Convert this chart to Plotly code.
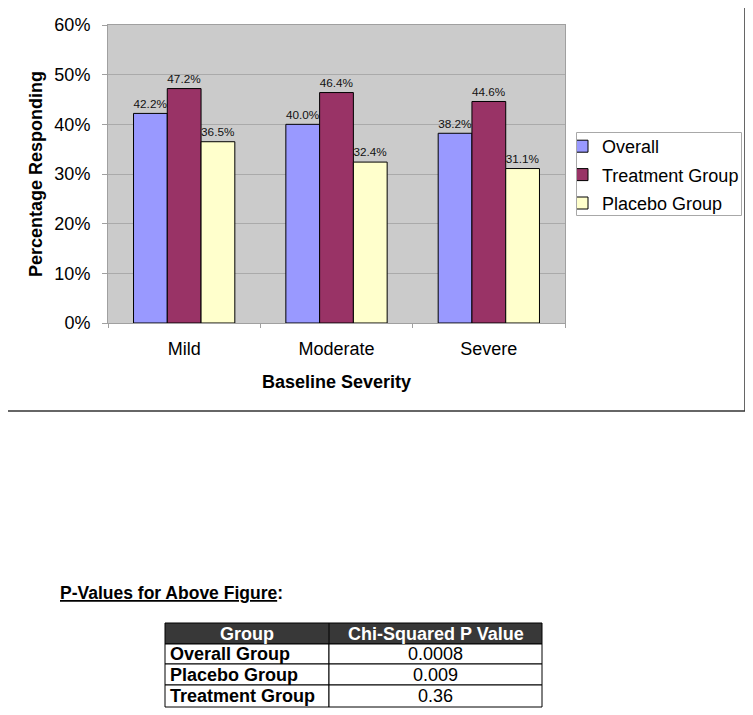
import plotly.graph_objects as go

categories = ["Mild", "Moderate", "Severe"]
overall = [0.422, 0.400, 0.382]
treatment = [0.472, 0.464, 0.446]
placebo = [0.365, 0.324, 0.311]
series_names = ["Overall", "Treatment Group", "Placebo Group"]
series_colors = ["#9999FF", "#993366", "#FFFFCC"]

table_header = ["Group", "Chi-Squared P Value"]
table_groups = ["Overall Group", "Placebo Group", "Treatment Group"]
table_pvalues = ["0.0008", "0.009", "0.36"]

# page body has an 8px margin, so the figure is drawn 8px in from the window edge
OFF = 8
W, H = 753 - OFF, 715 - OFF
L, R, T, B = 108, 565, 25, 323   # plot area in window pixels


def PX(x):
    return (x - L) / (R - L)


def PY(y):
    return (B - y) / (B - T)


fig = go.Figure()
for i, (name, vals, col) in enumerate(zip(series_names, [overall, treatment, placebo], series_colors)):
    fig.add_trace(go.Bar(
        x=categories, y=vals, name=name,
        marker=dict(color=col, line=dict(color="#000000", width=1)),
        text=[f"{v*100:.1f}%" for v in vals],
        textposition="outside",
        textfont=dict(family="Arial", size=13, color="#111111"),
        cliponaxis=False,
        legendgroup=name,
    ))

font = "Arial"
shapes = []
annotations = []

# legend frame (drawn as four lines, aligned to pixel centres)
lx0, lx1, ly0, ly1 = 576.5, 741.5, 132.5, 215.5
for (x0, y0, x1, y1) in [(lx0, ly0, lx1, ly0), (lx0, ly1, lx1, ly1), (lx0, ly0, lx0, ly1), (lx1, ly0, lx1, ly1)]:
    shapes.append(dict(type="line", xref="paper", yref="paper",
                       x0=PX(x0), y0=PY(y0), x1=PX(x1), y1=PY(y1),
                       line=dict(color="#A8A8A8", width=1)))

# border around chart area
for (x0, y0, x1, y1) in [(7, 5, 7, 411), (745, 5, 745, 411), (7, 411, 745, 411)]:
    shapes.append(dict(type="line", xref="paper", yref="paper",
                       x0=PX(x0), y0=PY(y0), x1=PX(x1), y1=PY(y1),
                       line=dict(color="#333333", width=1.5)))

# axis titles
annotations.append(dict(text="<b>Percentage Responding</b>", xref="paper", yref="paper",
                        x=PX(36), y=PY(174), textangle=-90, showarrow=False,
                        font=dict(family=font, size=18, color="#000000"),
                        xanchor="center", yanchor="middle"))
annotations.append(dict(text="<b>Baseline Severity</b>", xref="paper", yref="paper",
                        x=PX(336), y=PY(382), showarrow=False,
                        font=dict(family=font, size=18, color="#000000"),
                        xanchor="center", yanchor="middle"))

# P-values title
annotations.append(dict(text="<b><u>P-Values for Above Figure</u>:</b>", xref="paper", yref="paper",
                        x=PX(58), y=PY(593), showarrow=False,
                        font=dict(family=font, size=17.5, color="#000000"),
                        xanchor="left", yanchor="middle"))

# table
tx0, tmid, tx1 = 165, 329, 542
row_y = [623, 644, 664, 685, 707]
shapes.append(dict(type="rect", xref="paper", yref="paper",
                   x0=PX(tx0), x1=PX(tx1), y0=PY(row_y[0]), y1=PY(row_y[1]),
                   fillcolor="#383838", line=dict(color="#000000", width=1)))
for i in range(1, 4):
    for (a, b) in [(tx0, tmid), (tmid, tx1)]:
        shapes.append(dict(type="rect", xref="paper", yref="paper",
                           x0=PX(a), x1=PX(b), y0=PY(row_y[i]), y1=PY(row_y[i + 1]),
                           fillcolor="#FFFFFF", line=dict(color="#000000", width=1)))
shapes.append(dict(type="line", xref="paper", yref="paper",
                   x0=PX(tmid), x1=PX(tmid), y0=PY(row_y[0]), y1=PY(row_y[1]),
                   line=dict(color="#000000", width=1)))

annotations.append(dict(text="<b>" + table_header[0] + "</b>", xref="paper", yref="paper",
                        x=PX((tx0 + tmid) / 2), y=PY((row_y[0] + row_y[1]) / 2), showarrow=False,
                        font=dict(family=font, size=18, color="#FFFFFF"),
                        xanchor="center", yanchor="middle"))
annotations.append(dict(text="<b>" + table_header[1] + "</b>", xref="paper", yref="paper",
                        x=PX((tmid + tx1) / 2), y=PY((row_y[0] + row_y[1]) / 2), showarrow=False,
                        font=dict(family=font, size=18, color="#FFFFFF"),
                        xanchor="center", yanchor="middle"))
for i, (g, p) in enumerate(zip(table_groups, table_pvalues)):
    yc = PY((row_y[i + 1] + row_y[i + 2]) / 2)
    annotations.append(dict(text="<b>" + g + "</b>", xref="paper", yref="paper",
                            x=PX(tx0 + 3), y=yc, showarrow=False,
                            font=dict(family=font, size=18, color="#000000"),
                            xanchor="left", yanchor="middle"))
    annotations.append(dict(text=p, xref="paper", yref="paper",
                            x=PX((tmid + tx1) / 2), y=yc, showarrow=False,
                            font=dict(family=font, size=18, color="#000000"),
                            xanchor="center", yanchor="middle"))

fig.update_layout(
    width=W, height=H,
    margin=dict(l=L - OFF, r=W - (R - OFF), t=T - OFF, b=H - (B - OFF), autoexpand=False),
    paper_bgcolor="#FFFFFF",
    plot_bgcolor="#CBCBCB",
    barmode="group",
    bargap=0.335,
    bargroupgap=0,
    font=dict(family=font, size=18, color="#000000"),
    showlegend=True,
    legend=dict(
        x=PX(577), y=PY(128), xanchor="left", yanchor="top",
        bgcolor="rgba(0,0,0,0)", borderwidth=0,
        font=dict(family=font, size=18, color="#000000"),
        tracegroupgap=2, traceorder="grouped", indentation=-15,
        itemclick=False,
    ),
    shapes=shapes,
    annotations=annotations,
    xaxis=dict(
        showgrid=False, showline=True, linecolor="#A0A0A0", linewidth=1, mirror=True,
        ticks="outside", tickson="boundaries", ticklen=4, tickcolor="#A0A0A0",
        tickfont=dict(family=font, size=18, color="#000000"),
        ticklabelstandoff=9,
    ),
    yaxis=dict(
        range=[0, 0.6], dtick=0.1, tickformat=".0%",
        showgrid=True, gridcolor="#AAAAAA", gridwidth=1,
        zeroline=False, showline=True, linecolor="#A0A0A0", linewidth=1, mirror=True,
        ticks="outside", ticklen=5, tickcolor="#A0A0A0",
        tickfont=dict(family=font, size=18, color="#000000"),
        ticklabelstandoff=8,
    ),
)

fig.write_html("out.html")
